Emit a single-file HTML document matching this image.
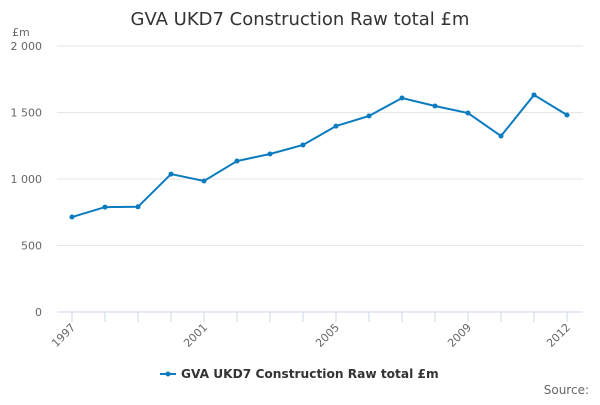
<!DOCTYPE html>
<html><head><meta charset="utf-8"><style>
body{margin:0;background:#fff;font-family:"Liberation Sans","DejaVu Sans",sans-serif;}
svg text{font-family:"DejaVu Sans","Liberation Sans",sans-serif;}
</style></head><body>
<svg id="chart" width="600" height="400">
<text x="300" y="25" text-anchor="middle" font-size="18" fill="#333">GVA UKD7 Construction Raw total £m</text>
<text x="12" y="36" font-size="11" fill="#666">£m</text>
<g id="grid"></g><g id="xaxis"></g><g id="series"></g>
<g>
<line x1="160" y1="374" x2="176" y2="374" stroke="#0a7bbf" stroke-width="2"/>
<circle cx="168" cy="374" r="2.5" fill="#0a7bbf"/>
<text x="181" y="378" font-size="12.2" font-weight="bold" fill="#333">GVA UKD7 Construction Raw total £m</text>
</g>
<text x="589" y="394" text-anchor="end" font-size="12" fill="#666">Source:</text>
</svg>
<script>
const years=[1997,1998,1999,2000,2001,2002,2003,2004,2005,2006,2007,2008,2009,2010,2011,2012];
const values=[714,789,791,1037,985,1135,1188,1256,1398,1474,1609,1549,1496,1323,1632,1481];
const yTicks=[0,500,1000,1500,2000];
const yTickLabels=["0","500","1 000","1 500","2 000"];
const xLabelYears=[1997,2001,2005,2009,2012];
const NS="http://www.w3.org/2000/svg";
const x=yr=>72+(yr-1997)*33;
const y=v=>312-v/2000*266;
function mk(t,a,p){const e=document.createElementNS(NS,t);for(const k in a)e.setAttribute(k,a[k]);p.appendChild(e);return e;}
const grid=document.getElementById('grid');
yTicks.forEach((v,i)=>{
 const l=mk('line',{x1:57,x2:583,y1:y(v),y2:y(v),stroke:v===0?'#ccd6eb':'#e6e6e6','stroke-width':1},grid);
 
 
 const t=mk('text',{x:42,y:y(v)+4,'text-anchor':'end','font-size':11,fill:'#666'},grid);
 t.textContent=yTickLabels[i];
 
 
});
const xa=document.getElementById('xaxis');
years.forEach(yr=>{
 const l=mk('line',{x1:x(yr),x2:x(yr),y1:312,y2:322,stroke:'#ccd6eb'},xa);
 
 
});
xLabelYears.forEach(yr=>{
 const t=mk('text',{x:x(yr)+4,y:328,'text-anchor':'end','font-size':11,fill:'#666',transform:`rotate(-45 ${x(yr)+4} 328)`},xa);
 t.textContent=yr;
 
 
});
const s=document.getElementById('series');
const p=mk('polyline',{points:years.map((yr,i)=>x(yr)+','+y(values[i])).join(' '),fill:'none',stroke:'#0a7bbf','stroke-width':2},s);


years.forEach((yr,i)=>{
 const c=mk('circle',{cx:x(yr),cy:y(values[i]),r:2.5,fill:'#0a7bbf'},s);
 
 
});
</script>
</body></html>
